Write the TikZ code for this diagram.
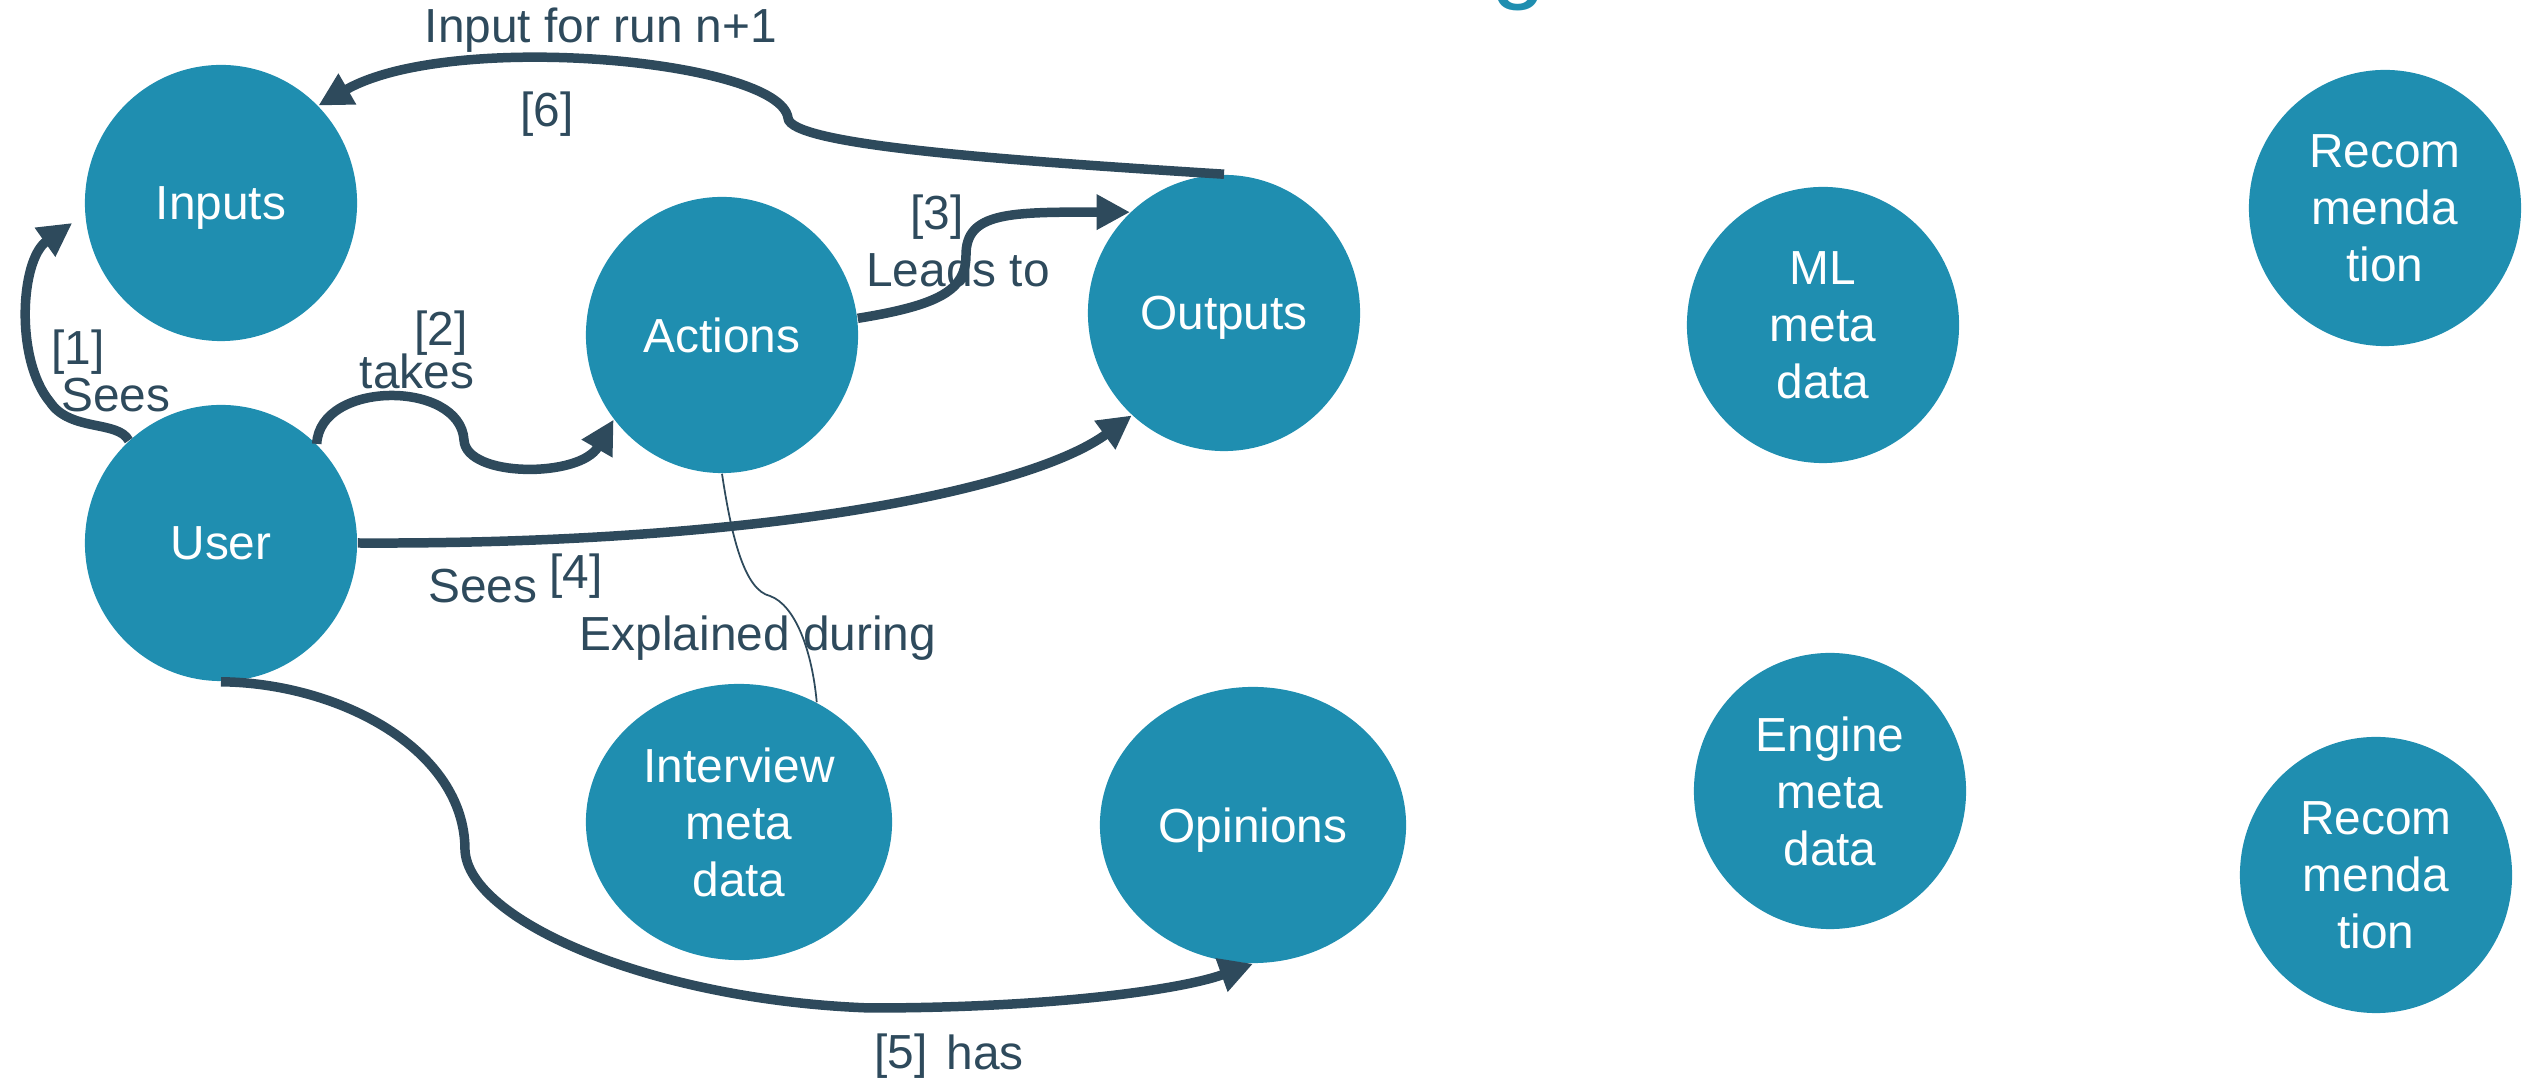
\documentclass[tikz,border=0pt]{standalone}
\usepackage{fontspec}
\setmainfont{Liberation Sans}
\usepackage{tikz}
\usetikzlibrary{shapes.geometric,arrows.meta,calc}
\definecolor{nodeblue}{RGB}{31,142,176}
\definecolor{linkgray}{RGB}{46,74,92}
\tikzset{node distance=2.0cm, auto}
\tikzset{
  bubble/.style={ellipse, fill=nodeblue, text=white, align=center, inner sep=0pt,
    text depth=0pt, minimum width=2.72cm, minimum height=2.76cm},
  wide/.style={minimum width=3.06cm},
  link/.style={draw=linkgray, line width=2.7pt, -{Triangle[length=9.5pt,width=9.5pt]}},
  note/.style={text=linkgray, inner sep=0pt, anchor=base},
}

\begin{document}
\begin{tikzpicture}[x=0.01cm, y=-0.01cm, font=\fontsize{13.6}{16.2}\selectfont]
\useasboundingbox (0,0) rectangle (2526,1083);
% cut-off title letter
\node[text=nodeblue, font=\fontsize{28}{32}\selectfont, anchor=base] (titleg) at (1519,-9) {g};

\node[bubble] (inputs) at (221,203) {Inputs};
\node[bubble] (user) at (221,543) {User};
\node[bubble] (actions) at (722,335) {Actions};
\node[bubble] (outputs) at (1224,313) {Outputs};
\node[bubble, wide] (interview) at (739,822) {Interview\\meta\\data};
\node[bubble, wide] (opinions) at (1253,825) {Opinions};
\node[bubble] (mlmeta) at (1823,325) {ML\\meta\\data};
\node[bubble] (enginemeta) at (1830,791) {Engine\\meta\\data};
\node[bubble] (recomtop) at (2385,208) {Recom\\menda\\tion};
\node[bubble] (recombottom) at (2376,875) {Recom\\menda\\tion};

% [1] .. [6]
\draw[link] (user.132) .. controls (118,420) and (70,432) .. (50,402)
  .. controls (15,360) and (20,260) .. ($(inputs.west)+(-12,20)$);
\draw[link] (user.46) .. controls (320,380) and (460,380) .. (464,440)
  .. controls (466,478) and (580,478) .. (actions.218);
\draw[link] (actions.7) .. controls (940,305) and (966,290) .. (966,255)
  .. controls (966,212) and (1010,212) .. (outputs.133);
\draw[link] (user.east) .. controls (760,545) and (1030,490) .. (outputs.228);
\draw[link] (user.south) .. controls (340,683) and (465,750) .. (465,850)
  .. controls (468,920) and (650,1000) .. (870,1008)
  .. controls (1050,1008) and (1180,990) .. (opinions.south);
\draw[link] (outputs.north) .. controls (1000,160) and (790,145) .. (788,118)
  .. controls (780,60) and (450,30) .. (inputs.45);
\draw[linkgray, line width=0.5pt] (actions.south) .. controls (732,540) and (745,590) .. (770,596)
  .. controls (795,605) and (812,650) .. (interview.57);

\node[note] (n1) at (78,365) {[1]};
\node[note] (sees1) at (116,412) {Sees};
\node[note] (n2) at (441,346) {[2]};
\node[note] (takes) at (417,389) {takes};
\node[note] (n3) at (937,230) {[3]};
\node[note] (leads) at (958,287) {Leads to};
\node[note] (sees4) at (483,603) {Sees};
\node[note] (n4) at (576,589) {[4]};
\node[note] (expl) at (758,651) {Explained during};
\node[note] (n5) at (901,1069) {[5]};
\node[note] (has) at (985,1070) {has};
\node[note] (nextrun) at (601,43) {Input for run n+1};
\node[note] (n6) at (547,127) {[6]};
\end{tikzpicture}
\end{document}
